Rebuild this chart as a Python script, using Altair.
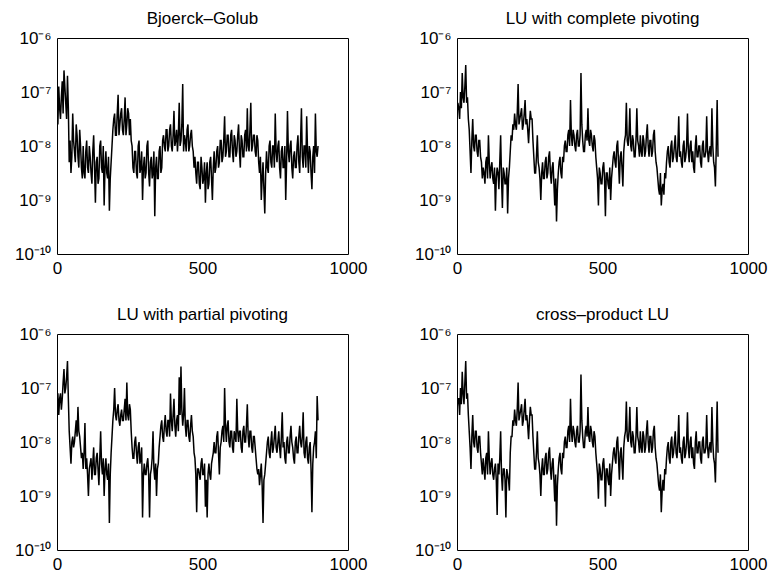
import altair as alt
import pandas as pd

# samples every `step` units; "mid" values sit half a step after each main value
step = 6

# log10 of the error
bjoerck_golub_log10 = [
    -7.4, -6.9, -7.5, -6.8, -6.6, -7.2, -6.7,
    -8.3, -8.5, -7.4, -8.1, -7.6, -8.2, -7.7, -8.4,
    -8.0, -8.6, -7.9, -8.5, -8.2, -8.7, -7.8, -9.05, -8.2, -8.6, -7.9, -8.5, -9.1, -8.1, -8.6, -9.2, -8.3,
    -7.7, -7.4, -7.8, -7.05, -7.6, -7.3, -7.8, -7.1, -7.6, -7.4,
    -7.5,
    -8.0, -8.5, -8.1, -8.6, -7.9, -8.4, -9.0, -8.2, -8.5, -7.9, -8.75, -8.2, -8.5, -9.3, -8.2, -8.6, -8.0, -8.4,
    -7.8, -8.1, -7.7, -8.0, -7.6, -8.1, -7.35, -7.9, -8.1, -7.2, -7.9, -6.85, -7.8, -8.1, -7.6, -8.0, -7.7, -8.1,
    -8.2, -8.7, -8.3, -8.8, -8.4, -8.6, -9.05, -8.3, -8.7, -8.2,
    -9.0, -8.1, -8.4, -8.0, -8.3, -7.9, -8.2, -7.45,
    -8.1, -7.8, -8.2, -7.7, -8.3, -7.9, -8.1, -7.6, -8.4, -7.9, -8.2, -7.7, -7.3, -8.1, -7.2, -8.0, -7.8, -8.2, -7.9, -8.5,
    -9.0, -8.3, -9.25,
    -8.1, -8.5, -7.9, -8.4, -8.0, -7.4, -8.3, -7.9, -8.6, -8.0, -8.4, -9.0, -7.35, -8.3, -7.9, -8.6, -8.1, -8.4, -7.8, -8.5,
    -7.3, -8.4, -8.0, -7.45, -8.5, -8.1, -8.8, -8.0, -7.4, -8.2,
]
bjoerck_golub_mid_log10 = [
    -7.6, -7.3, -7.1, -7.4, -6.9, -7.5, -7.3,
    -7.9, -8.2, -7.9, -8.3, -7.8, -8.4, -8.0, -8.6,
    -8.5, -8.1, -8.4, -8.0, -8.5, -8.1, -8.4, -8.3, -8.7, -8.0, -8.4, -8.0, -8.4, -8.5, -8.2, -8.6, -8.0,
    -7.5, -7.8, -7.4, -7.8, -7.4, -7.7, -7.5, -7.8, -7.3, -7.8,
    -7.9,
    -8.4, -8.1, -8.5, -8.0, -8.5, -8.1, -8.4, -8.6, -8.0, -8.5, -8.3, -8.6, -8.1, -8.4, -8.6, -8.1, -8.5, -7.9,
    -8.0, -7.7, -8.1, -7.7, -8.0, -7.8, -8.0, -7.7, -7.8, -8.0, -7.6, -8.1, -7.9, -7.7, -8.1, -7.8, -8.0, -8.4,
    -8.5, -8.3, -8.7, -8.2, -8.7, -8.3, -8.5, -8.8, -8.3, -8.6,
    -8.4, -8.5, -8.1, -8.4, -7.9, -8.3, -7.9, -8.2,
    -7.8, -8.2, -7.8, -8.1, -7.8, -8.2, -7.8, -8.1, -7.8, -8.2, -7.8, -8.1, -8.0, -7.7, -8.1, -7.8, -8.1, -7.8, -8.3, -8.2,
    -8.6, -8.8, -8.5,
    -8.4, -8.0, -8.3, -8.0, -8.4, -8.1, -8.0, -8.4, -8.1, -8.4, -8.0, -8.3, -8.1, -8.0, -8.4, -8.2, -8.4, -8.0, -8.3, -7.9,
    -8.2, -8.0, -8.4, -8.1, -8.0, -8.5, -8.2, -8.5, -8.1, -8.0,
]

lu_complete_log10 = [
    -7.4, -7.3, -7.0, -6.65, -7.2, -6.5, -7.1,
    -7.7, -8.5, -7.5, -8.1, -7.8, -8.2, -7.9, -8.3,
    -8.4, -8.7, -8.2, -7.8, -8.6, -8.3, -8.7, -9.2, -8.4, -8.8, -7.8, -9.15, -8.5, -8.7, -9.25, -8.4, -7.8,
    -7.6, -7.4, -7.7, -6.85, -7.5, -7.3, -7.6, -7.15, -7.5, -7.95,
    -7.35, -7.5,
    -8.2, -8.5, -7.8, -8.4, -9.0, -8.3, -8.6, -8.2, -8.5, -8.1, -8.7, -8.3, -9.1, -9.4, -8.5, -8.2, -8.6, -8.3,
    -7.9, -8.1, -7.7, -7.15, -8.0, -7.8, -8.1, -7.7, -8.0, -6.65, -7.9, -8.1, -7.7, -7.3, -8.0, -7.8, -8.1, -7.9,
    -8.4, -9.1, -8.5, -8.7, -8.3, -9.3, -8.5, -8.8, -9.0, -8.4,
    -8.1, -8.4, -7.9, -8.7, -8.1, -8.75, -7.9, -7.2, -8.0, -7.3, -8.1, -7.9, -8.2, -7.3, -8.0, -7.8, -8.2, -7.9, -8.1,
    -7.6, -8.2, -7.9, -8.1, -7.7, -8.3,
    -8.6, -8.9, -9.1, -8.7, -8.5,
    -8.3, -8.0, -8.4, -7.9, -8.2, -7.8, -8.3, -7.45, -8.1, -8.4, -7.9, -8.2, -7.4, -8.3, -7.9, -8.1, -8.5, -7.8, -8.2,
    -8.0, -8.4, -7.9, -8.2, -7.45, -8.3, -8.0, -7.3, -8.3, -8.75, -7.15,
]
lu_complete_mid_log10 = [
    -7.2, -7.5, -7.3, -7.1, -6.9, -7.2, -7.5,
    -8.1, -7.9, -8.0, -7.8, -8.1, -7.9, -8.2, -8.6,
    -8.5, -8.3, -8.6, -8.3, -8.4, -8.6, -8.4, -8.6, -8.5, -8.3, -8.6, -8.4, -8.7, -8.4, -8.6, -8.1, -7.9,
    -7.7, -7.6, -7.4, -7.6, -7.4, -7.7, -7.4, -7.6, -7.7, -7.6,
    -7.5, -7.9,
    -8.5, -8.2, -8.3, -8.6, -8.5, -8.6, -8.3, -8.6, -8.2, -8.5, -8.4, -8.7, -8.6, -8.8, -8.3, -8.5, -8.2, -8.0,
    -8.1, -7.8, -8.0, -7.8, -7.7, -8.0, -7.8, -8.0, -7.8, -7.6, -8.1, -7.8, -7.9, -7.9, -7.7, -8.0, -7.8, -8.2,
    -8.6, -8.4, -8.7, -8.4, -8.6, -8.5, -8.7, -8.4, -8.6, -8.2,
    -8.3, -8.0, -8.3, -8.2, -8.4, -8.1, -7.8, -7.9, -7.8, -8.0, -7.8, -8.2, -7.9, -7.9, -8.2, -8.1, -7.8, -8.2, -7.8,
    -8.0, -7.9, -8.2, -7.8, -8.1, -8.4,
    -8.8, -8.5, -8.8, -8.9, -8.6,
    -8.1, -8.3, -8.0, -8.3, -8.0, -8.2, -8.0, -8.2, -8.3, -8.0, -8.3, -8.0, -8.1, -8.0, -8.3, -8.4, -8.0, -8.2, -8.0,
    -8.3, -8.0, -8.2, -8.1, -8.1, -8.1, -8.2, -8.0, -8.4, -8.0, -8.2,
]

lu_partial_log10 = [
    -7.3, -7.5, -7.1, -7.2, -6.65, -7.0, -6.5,
    -7.8, -8.4, -7.9, -8.0, -7.6, -7.35, -7.9, -8.3,
    -8.5, -7.65, -8.3, -9.0, -8.4, -8.7, -8.1, -8.6, -8.2, -8.8, -7.8, -8.6, -9.0, -8.3, -8.7, -9.5, -8.2,
    -7.6, -7.0, -7.6, -7.3, -7.7, -7.4, -7.6, -7.2, -6.9, -7.6,
    -7.4, -8.1, -8.3, -7.9, -8.4, -8.0, -8.3, -9.4,
    -8.4, -8.6, -8.3, -9.4, -8.5, -7.8, -8.7, -9.0, -8.4,
    -7.9, -7.6, -8.0, -7.5, -7.9, -7.6, -7.1, -7.8, -7.2, -7.9, -7.5, -6.8, -6.6, -7.7, -7.0, -7.9, -7.6, -8.0,
    -7.5, -7.9,
    -8.3, -9.3, -8.5, -8.7, -8.3, -8.6, -9.2, -9.4, -8.4, -8.7, -8.3,
    -8.0, -8.2, -7.8, -8.6, -8.0, -7.7, -7.0, -8.0, -7.6, -8.1, -7.8, -8.2, -7.9, -7.2, -8.0, -7.8, -8.2, -7.7, -8.0,
    -7.3, -8.1, -7.8, -8.2, -7.9, -8.3,
    -8.6, -8.8, -8.4, -9.5, -8.6,
    -8.2, -7.9, -8.3, -7.8, -8.1, -7.7, -8.2, -7.8, -8.3, -7.45, -8.0, -8.4, -7.9, -8.2, -7.7, -8.1, -8.4, -7.9, -8.2,
    -7.7, -8.1, -7.45, -8.3, -7.9, -8.4, -8.0, -9.3, -8.1, -7.8, -7.15,
]
lu_partial_mid_log10 = [
    -7.1, -7.2, -7.4, -6.9, -7.1, -6.8, -7.2,
    -8.1, -8.0, -8.1, -7.8, -7.9, -7.8, -8.1, -8.2,
    -8.2, -8.5, -8.6, -8.5, -8.3, -8.4, -8.6, -8.3, -8.5, -8.3, -8.4, -8.3, -8.5, -8.6, -8.4, -8.6, -7.9,
    -7.4, -7.5, -7.4, -7.6, -7.5, -7.6, -7.4, -7.6, -7.5, -7.3,
    -7.8, -8.3, -8.0, -8.2, -8.1, -8.4, -8.1, -8.6,
    -8.6, -8.4, -8.6, -8.6, -8.3, -8.5, -8.4, -8.5, -8.1,
    -7.7, -7.9, -7.7, -7.8, -7.6, -7.9, -7.6, -7.5, -7.7, -7.6, -7.8, -7.5, -7.4, -7.5, -7.7, -7.6, -7.9, -7.7,
    -7.8, -8.2,
    -8.6, -8.5, -8.6, -8.4, -8.6, -8.4, -8.7, -8.6, -8.6, -8.4, -8.2,
    -8.2, -7.9, -8.2, -8.1, -7.8, -8.0, -7.7, -7.7, -8.0, -7.8, -8.1, -7.8, -8.0, -7.8, -7.8, -8.1, -7.8, -8.0, -7.7,
    -7.9, -7.8, -8.1, -7.9, -8.1, -8.5,
    -8.5, -8.6, -8.8, -8.7, -8.4,
    -8.0, -8.2, -8.0, -8.2, -7.9, -8.1, -8.0, -8.1, -7.9, -8.1, -8.3, -8.0, -8.2, -7.9, -8.0, -8.3, -8.0, -8.2, -7.9,
    -8.0, -7.9, -8.2, -8.0, -8.3, -8.1, -8.5, -8.4, -8.0, -8.3, -7.6,
]

cross_product_log10 = [
    -7.4, -7.2, -7.0, -6.7, -7.3, -6.5, -7.1,
    -7.8, -8.5, -7.5, -8.1, -7.8, -8.2, -7.9, -8.4,
    -8.3, -8.7, -8.2, -7.8, -8.6, -8.3, -8.7, -8.4, -9.35, -8.6, -7.8, -8.9, -8.5, -9.4, -8.6, -8.9, -7.9,
    -7.6, -7.4, -7.7, -6.9, -7.5, -7.3, -7.6, -7.2, -7.5, -7.95,
    -7.35, -7.5,
    -8.2, -8.5, -7.8, -8.4, -9.0, -8.3, -8.6, -8.2, -8.5, -8.1, -8.7, -8.3, -9.1, -9.55, -8.5, -8.2, -8.6, -8.3,
    -7.9, -8.1, -7.7, -7.2, -8.0, -7.8, -8.1, -7.7, -8.0, -6.75, -7.9, -8.1, -7.7, -7.35, -8.0, -7.8, -8.1, -7.9,
    -8.4, -9.05, -8.5, -8.7, -8.3, -9.2, -8.5, -8.8, -9.0, -8.4,
    -8.1, -8.4, -7.9, -8.7, -8.1, -8.7, -7.9, -7.25, -8.0, -7.35, -8.1, -7.9, -8.2, -7.35, -8.0, -7.8, -8.2, -7.9,
    -8.1, -7.6, -8.2, -7.9, -8.1, -7.7, -8.3,
    -8.6, -8.9, -9.3, -8.7, -8.5,
    -8.3, -8.0, -8.4, -7.9, -8.2, -7.8, -8.3, -7.5, -8.1, -8.4, -7.9, -8.2, -7.45, -8.3, -7.9, -8.1, -8.5, -7.8, -8.2,
    -8.0, -8.4, -7.9, -8.2, -7.5, -8.3, -8.0, -7.35, -8.3, -8.75, -7.25,
]
cross_product_mid_log10 = [
    -7.2, -7.5, -7.3, -7.1, -6.9, -7.2, -7.5,
    -8.1, -7.9, -8.0, -7.8, -8.1, -7.9, -8.2, -8.6,
    -8.5, -8.3, -8.6, -8.3, -8.4, -8.6, -8.5, -8.7, -8.4, -8.3, -8.6, -8.5, -8.7, -8.5, -8.7, -8.2, -7.9,
    -7.7, -7.6, -7.4, -7.6, -7.4, -7.7, -7.4, -7.6, -7.7, -7.6,
    -7.5, -7.9,
    -8.5, -8.2, -8.3, -8.6, -8.5, -8.6, -8.3, -8.6, -8.2, -8.5, -8.4, -8.7, -8.6, -8.8, -8.3, -8.5, -8.2, -8.0,
    -8.1, -7.8, -8.0, -7.8, -7.7, -8.0, -7.8, -8.0, -7.8, -7.6, -8.1, -7.8, -7.9, -7.9, -7.7, -8.0, -7.8, -8.2,
    -8.6, -8.4, -8.7, -8.4, -8.6, -8.5, -8.7, -8.4, -8.6, -8.2,
    -8.3, -8.0, -8.3, -8.2, -8.4, -8.1, -7.8, -7.9, -7.8, -8.0, -7.8, -8.2, -7.9, -7.9, -8.2, -8.1, -7.8, -8.2, -7.8,
    -8.0, -7.9, -8.2, -7.8, -8.1, -8.4,
    -8.8, -8.6, -8.9, -8.9, -8.6,
    -8.1, -8.3, -8.0, -8.3, -8.0, -8.2, -8.0, -8.2, -8.3, -8.0, -8.3, -8.0, -8.1, -8.0, -8.3, -8.4, -8.0, -8.2, -8.0,
    -8.3, -8.0, -8.2, -8.1, -8.1, -8.1, -8.2, -8.0, -8.4, -8.0, -8.2,
]

titles = ["Bjoerck–Golub", "LU with complete pivoting",
          "LU with partial pivoting", "cross–product LU"]
x_ticks = [0, 500, 1000]
y_ticks = [1e-10, 1e-9, 1e-8, 1e-7, 1e-6]

FONT = "Liberation Sans"

y_label_expr = (
    "datum.value < 3e-10 ? '10⁻¹⁰' : datum.value < 3e-9 ? '10⁻⁹' : "
    "datum.value < 3e-8 ? '10⁻⁸' : datum.value < 3e-7 ? '10⁻⁷' : '10⁻⁶'"
)


def panel(vals, mids, title):
    n = [step * i for i in range(len(vals))] + [step * i + step // 2 for i in range(len(mids))]
    e = [10 ** v for v in vals] + [10 ** v for v in mids]
    df = pd.DataFrame({"n": n, "err": e}).sort_values("n")
    return alt.Chart(
        df,
        title=alt.TitleParams(title, fontSize=17, fontWeight="normal", font=FONT,
                              color="black", offset=1, frame="group"),
    ).mark_line(color="black", strokeWidth=1.5, clip=True).encode(
        x=alt.X("n:Q", sort=None,
                scale=alt.Scale(domain=[0, 1000], nice=False, zero=False),
                axis=alt.Axis(values=x_ticks, format="d", title=None, grid=False,
                              ticks=False, domain=False, labelFontSize=17,
                              labelFont=FONT, labelColor="black", labelPadding=6,
                              labelFlush=False)),
        y=alt.Y("err:Q",
                scale=alt.Scale(type="log", domain=[1e-10, 1e-6], nice=False),
                axis=alt.Axis(values=y_ticks, labelExpr=y_label_expr, title=None,
                              grid=False, ticks=False, domain=False, labelFontSize=17,
                              labelFont=FONT, labelColor="black", labelPadding=6)),
        order=alt.Order("n:Q"),
    ).properties(width=291, height=216)


top = alt.hconcat(panel(bjoerck_golub_log10, bjoerck_golub_mid_log10, titles[0]),
                  panel(lu_complete_log10, lu_complete_mid_log10, titles[1]), spacing=45)
bottom = alt.hconcat(panel(lu_partial_log10, lu_partial_mid_log10, titles[2]),
                     panel(cross_product_log10, cross_product_mid_log10, titles[3]), spacing=45)

chart = alt.vconcat(top, bottom, spacing=28).properties(
    padding={"left": 13, "top": 9, "right": 0, "bottom": 0},
    background="white",
).configure_view(stroke="black", strokeWidth=1)

chart.save("out.html", embed_options={"renderer": "svg", "actions": False})
